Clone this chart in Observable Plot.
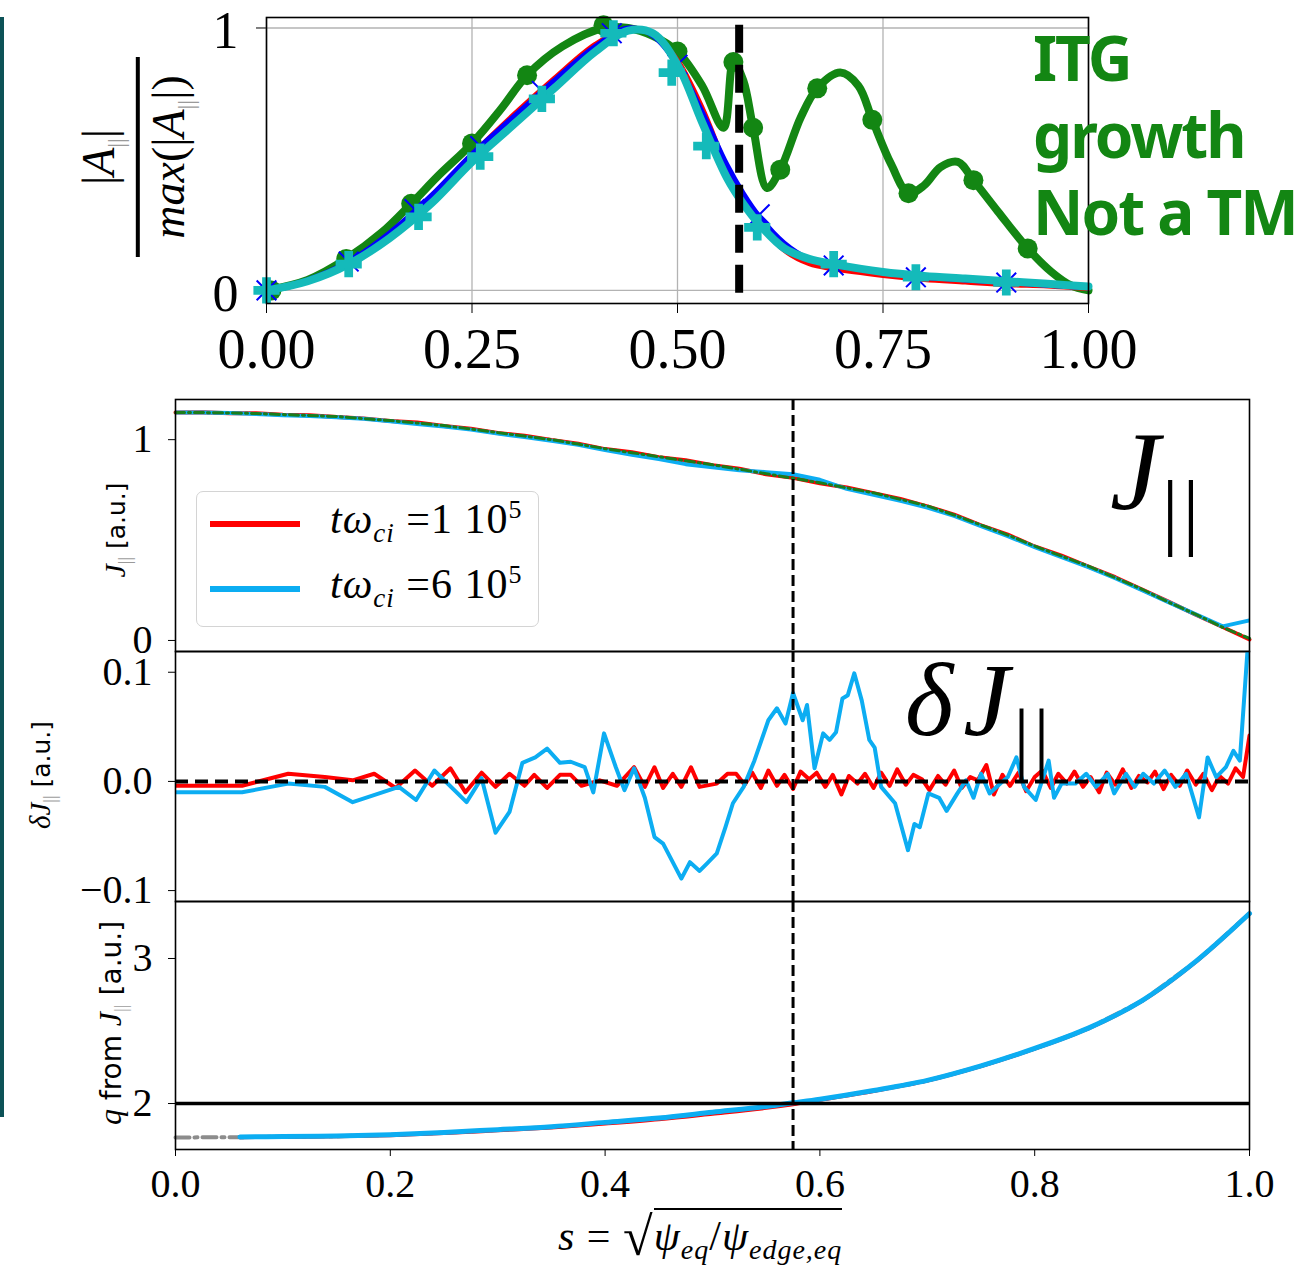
<!DOCTYPE html>
<html><head><meta charset="utf-8">
<script src="https://cdn.jsdelivr.net/npm/d3@7"></script>
<script src="https://cdn.jsdelivr.net/npm/@observablehq/plot@0.6"></script>
<style>
body{margin:0;background:#fff;}
#wrap{position:relative;width:1306px;height:1266px;overflow:hidden;background:#fff;}
.abs{position:absolute;}
.serif{font-family:"Liberation Serif",serif;}
.sans{font-family:"DejaVu Sans",sans-serif;}
.rot{transform:translate(-50%,-50%) rotate(-90deg);white-space:nowrap;}
.gsub{color:#9a9a9a;}
</style></head><body><div id="wrap"></div>
<script>
// ---------- Top panel: |A_par| / max(|A_par|) ----------
const topTicksX = [0, 0.25, 0.5, 0.75, 1];
const topTicksY = [0, 1];
const sRational = 0.575;

const greenS = [0, 0.05, 0.097, 0.14, 0.176, 0.21, 0.25, 0.285, 0.317, 0.36, 0.41, 0.44, 0.47, 0.50, 0.53, 0.556, 0.568, 0.58, 0.592, 0.609, 0.625, 0.65, 0.67, 0.698, 0.72, 0.737, 0.76, 0.781, 0.80, 0.82, 0.841, 0.86, 0.89, 0.926, 0.955, 0.978, 1.0];
const greenV = [0, 0.04, 0.12, 0.22, 0.33, 0.44, 0.56, 0.69, 0.82, 0.93, 1.0, 1.0, 0.97, 0.91, 0.78, 0.62, 0.87, 0.80, 0.62, 0.39, 0.46, 0.66, 0.77, 0.83, 0.78, 0.65, 0.48, 0.37, 0.40, 0.47, 0.49, 0.42, 0.30, 0.16, 0.07, 0.02, 0.0];
const greenMarkS = [0.006, 0.097, 0.176, 0.25, 0.317, 0.41, 0.50, 0.568, 0.592, 0.625, 0.67, 0.737, 0.781, 0.86, 0.926];
const greenMarkV = [0.0, 0.12, 0.33, 0.56, 0.82, 1.01, 0.91, 0.87, 0.62, 0.46, 0.77, 0.65, 0.37, 0.42, 0.16];

const topS  = [0, 0.05, 0.1, 0.15, 0.2, 0.25, 0.3, 0.35, 0.4, 0.44, 0.47, 0.5, 0.53, 0.56, 0.58, 0.6, 0.63, 0.66, 0.69, 0.75, 0.8, 0.85, 0.9, 0.95, 1.0];
const redTopV  = [0, 0.04, 0.11, 0.22, 0.36, 0.52, 0.67, 0.81, 0.94, 1.0, 0.98, 0.88, 0.70, 0.47, 0.34, 0.25, 0.15, 0.10, 0.08, 0.055, 0.04, 0.03, 0.02, 0.015, 0.005];
const blueTopV = [0, 0.04, 0.11, 0.22, 0.36, 0.52, 0.66, 0.80, 0.93, 1.0, 0.97, 0.86, 0.68, 0.48, 0.37, 0.28, 0.18, 0.12, 0.095, 0.07, 0.05, 0.04, 0.03, 0.02, 0.01];
const cyanTopV = [0, 0.035, 0.10, 0.20, 0.33, 0.49, 0.63, 0.77, 0.91, 0.99, 0.98, 0.86, 0.64, 0.43, 0.33, 0.25, 0.16, 0.12, 0.10, 0.07, 0.055, 0.045, 0.035, 0.025, 0.015];
const blueMarkS = [0.0, 0.1, 0.18, 0.26, 0.335, 0.42, 0.5, 0.6, 0.69, 0.79, 0.9];
const blueMarkV = [0.0, 0.11, 0.31, 0.55, 0.76, 0.98, 0.86, 0.29, 0.095, 0.05, 0.03];
const cyanMarkS = [0.0, 0.1, 0.185, 0.26, 0.335, 0.422, 0.493, 0.535, 0.597, 0.69, 0.79, 0.9];
const cyanMarkV = [0.0, 0.10, 0.28, 0.51, 0.73, 0.98, 0.83, 0.55, 0.24, 0.10, 0.05, 0.03];

// ---------- Panel A: J_par ----------
const jTicks = [0, 1];
const jS = [0, 0.025, 0.05, 0.075, 0.1, 0.125, 0.15, 0.175, 0.2, 0.225, 0.25, 0.275, 0.3, 0.325, 0.35, 0.375, 0.4, 0.425, 0.45, 0.475, 0.5, 0.525, 0.55, 0.575, 0.6, 0.625, 0.65, 0.675, 0.7, 0.725, 0.75, 0.775, 0.8, 0.825, 0.85, 0.875, 0.9, 0.925, 0.95, 0.975, 1.0];
const jGreen = [1.135, 1.135, 1.133, 1.130, 1.125, 1.120, 1.115, 1.105, 1.095, 1.083, 1.07, 1.053, 1.035, 1.018, 1.0, 0.978, 0.955, 0.935, 0.915, 0.895, 0.875, 0.853, 0.83, 0.808, 0.785, 0.76, 0.735, 0.703, 0.67, 0.625, 0.575, 0.525, 0.47, 0.42, 0.37, 0.313, 0.255, 0.19, 0.13, 0.065, 0.01];
const jRed   = [1.135, 1.136, 1.132, 1.131, 1.124, 1.121, 1.113, 1.106, 1.093, 1.085, 1.068, 1.055, 1.033, 1.020, 0.998, 0.980, 0.953, 0.937, 0.913, 0.897, 0.873, 0.855, 0.828, 0.810, 0.783, 0.762, 0.733, 0.705, 0.668, 0.627, 0.573, 0.527, 0.468, 0.422, 0.368, 0.315, 0.253, 0.192, 0.128, 0.067, 0.005];
const jBlue  = [1.135, 1.135, 1.133, 1.128, 1.122, 1.118, 1.112, 1.104, 1.092, 1.078, 1.066, 1.05, 1.03, 1.013, 0.995, 0.975, 0.948, 0.925, 0.903, 0.878, 0.862, 0.848, 0.838, 0.828, 0.800, 0.755, 0.725, 0.695, 0.662, 0.62, 0.57, 0.52, 0.465, 0.415, 0.365, 0.31, 0.25, 0.19, 0.13, 0.07, 0.10];

// ---------- Panel B: delta J_par ----------
const dTicks = [-0.1, 0, 0.1];
const dBlueS = [0, 0.062, 0.105, 0.139, 0.165, 0.208, 0.224, 0.241, 0.271, 0.285, 0.298, 0.311, 0.323, 0.335, 0.346, 0.358, 0.368, 0.381, 0.389, 0.399, 0.41, 0.418, 0.427, 0.437, 0.446, 0.454, 0.471, 0.479, 0.488, 0.495, 0.504, 0.512, 0.519, 0.529, 0.539, 0.552, 0.560, 0.568, 0.575, 0.584, 0.588, 0.595, 0.603, 0.609, 0.615, 0.621, 0.626, 0.632, 0.639, 0.646, 0.651, 0.657, 0.670, 0.682, 0.688, 0.693, 0.701, 0.711, 0.718, 0.728, 0.736, 0.743, 0.750, 0.758, 0.768, 0.775, 0.783, 0.790, 0.801, 0.813, 0.818, 0.825, 0.838, 0.848, 0.857, 0.868, 0.874, 0.885, 0.893, 0.901, 0.911, 0.921, 0.931, 0.941, 0.953, 0.961, 0.969, 0.978, 0.985, 0.991, 0.998, 1.0];
const dBlueV = [-0.010, -0.010, -0.002, -0.005, -0.019, -0.005, -0.017, 0.010, -0.019, 0.003, -0.047, -0.028, 0.017, 0.022, 0.030, 0.017, 0.018, 0.013, -0.010, 0.044, 0.013, -0.008, 0.012, -0.015, -0.051, -0.057, -0.089, -0.074, -0.082, -0.075, -0.066, -0.042, -0.020, -0.005, 0.019, 0.056, 0.067, 0.053, 0.081, 0.056, 0.070, 0.012, 0.044, 0.038, 0.045, 0.076, 0.079, 0.099, 0.074, 0.038, 0.031, -0.005, -0.020, -0.063, -0.039, -0.042, -0.011, -0.015, -0.027, -0.011, 0.001, -0.015, 0.007, -0.011, -0.002, 0.004, 0.022, -0.005, -0.017, 0.019, -0.015, -0.002, -0.002, 0.007, -0.005, 0.007, -0.011, 0.007, -0.005, 0.007, -0.002, 0.010, -0.005, 0.007, -0.033, 0.022, 0.004, 0.013, 0.028, 0.019, 0.118, 0.14];
const dRedS = [0, 0.062, 0.105, 0.139, 0.165, 0.185, 0.205, 0.223, 0.239, 0.256, 0.270, 0.285, 0.298, 0.311, 0.325, 0.334, 0.346, 0.358, 0.368, 0.378, 0.395, 0.411, 0.427, 0.437, 0.446, 0.454, 0.463, 0.471, 0.480, 0.488, 0.504, 0.514,
  0.522, 0.530, 0.537, 0.545, 0.552, 0.560, 0.567, 0.575, 0.582, 0.590, 0.597, 0.605, 0.612, 0.620, 0.627, 0.635, 0.642, 0.650, 0.657, 0.665, 0.672, 0.680, 0.687, 0.695, 0.702, 0.710, 0.717, 0.725, 0.732, 0.740, 0.747, 0.755, 0.762, 0.770, 0.777, 0.785, 0.792, 0.800, 0.807, 0.815, 0.822, 0.830, 0.837, 0.845, 0.852, 0.860, 0.867, 0.875, 0.882, 0.890, 0.897, 0.905, 0.912, 0.920, 0.927, 0.935, 0.942, 0.950, 0.957, 0.965, 0.972, 0.980, 0.987, 0.994, 1.0];
const dRedV = [-0.004, -0.004, 0.007, 0.004, 0.001, 0.007, -0.006, 0.010, -0.004, 0.012, -0.010, 0.008, -0.005, 0.007, -0.004, 0.006, -0.006, 0.006, 0.006, -0.004, 0.001, -0.004, 0.013, -0.005, 0.013, -0.006, 0.007, -0.005, 0.013, -0.005, -0.002, 0.007,
  0.007, -0.003, 0.008, -0.006, 0.010, -0.004, 0.006, -0.007, 0.009, 0.002, 0.008, -0.005, 0.006, -0.012, 0.005, -0.002, 0.007, -0.006, 0.008, -0.004, 0.011, -0.003, 0.006, 0.002, -0.008, 0.005, -0.003, 0.010, -0.006, 0.004, 0.001, 0.015, -0.012, 0.006, -0.004, 0.008, -0.009, 0.004, 0.010, -0.006, 0.007, -0.002, 0.009, -0.005, 0.004, -0.010, 0.008, -0.003, 0.011, -0.006, 0.005, -0.001, 0.009, -0.007, 0.006, -0.004, 0.010, -0.003, 0.007, -0.008, 0.005, -0.002, 0.012, 0.004, 0.042];

// ---------- Panel C: q ----------
const qTicks = [2, 3];
const xTicks = [0, 0.2, 0.4, 0.6, 0.8, 1.0];
const qS    = [0, 0.06, 0.1, 0.15, 0.2, 0.25, 0.3, 0.35, 0.4, 0.45, 0.5, 0.55, 0.575, 0.6, 0.65, 0.7, 0.75, 0.8, 0.85, 0.9, 0.95, 1.0];
const qGrey = [1.766, 1.768, 1.771, 1.775, 1.784, 1.799, 1.818, 1.839, 1.868, 1.899, 1.938, 1.977, 2.0, 2.028, 2.088, 2.158, 2.258, 2.378, 2.518, 2.708, 2.978, 3.31];
const qRed  = [null, 1.768, 1.770, 1.774, 1.782, 1.796, 1.815, 1.835, 1.862, 1.892, 1.930, 1.970, 1.995, 2.026, 2.087, 2.158, 2.258, 2.378, 2.518, 2.708, 2.978, 3.31];
const qBlue = [null, 1.770, 1.772, 1.776, 1.785, 1.800, 1.820, 1.840, 1.870, 1.900, 1.940, 1.980, 2.005, 2.030, 2.090, 2.160, 2.260, 2.380, 2.520, 2.710, 2.980, 3.310];

const zip = (s, v) => s.map((x, i) => ({s: x, v: v[i]})).filter(d => d.v != null && d.v !== undefined);

const wrap = document.getElementById("wrap");
function place(el, left, top) {
  el.style.position = "absolute";
  el.style.left = left + "px";
  el.style.top = top + "px";
  el.style.overflow = "visible";
  wrap.appendChild(el);
}

const GREEN = "#138613", CYAN = "#14baba", LBLUE = "#0cadf2";

// Top plot
const topPlot = Plot.plot({
  width: 1306, height: 395,
  marginLeft: 266, marginRight: 218, marginTop: 17, marginBottom: 92,
  x: {domain: [0, 1], ticks: topTicksX, tickFormat: d3.format(".2f"), tickSize: 10, tickPadding: 15, label: null},
  y: {domain: [-0.05, 1.04], ticks: topTicksY, tickFormat: d => String(d), tickSize: 10, tickPadding: 18, label: null},
  style: {fontFamily: "'Liberation Serif', serif", fontSize: "56px", background: "transparent", color: "black", overflow: "visible"},
  marks: [
    Plot.ruleX(topTicksX, {stroke: "#b3b3b3", strokeWidth: 1.3}),
    Plot.ruleY(topTicksY, {stroke: "#b3b3b3", strokeWidth: 1.3}),
    Plot.line(zip(greenS, greenV), {x: "s", y: "v", stroke: GREEN, strokeWidth: 8, curve: "catmull-rom"}),
    Plot.dot(zip(greenMarkS, greenMarkV), {x: "s", y: "v", r: 10, fill: GREEN}),
    Plot.line(zip(topS, redTopV), {x: "s", y: "v", stroke: "red", strokeWidth: 4, curve: "catmull-rom"}),
    Plot.line(zip(topS, blueTopV), {x: "s", y: "v", stroke: "blue", strokeWidth: 5, curve: "catmull-rom"}),
    Plot.dot(zip(blueMarkS, blueMarkV), {x: "s", y: "v", r: 9, symbol: "times", stroke: "blue", strokeWidth: 2}),
    Plot.line(zip(topS, cyanTopV), {x: "s", y: "v", stroke: CYAN, strokeWidth: 8, curve: "catmull-rom"}),
    Plot.dot(zip(cyanMarkS, cyanMarkV), {x: "s", y: "v", r: 11, symbol: "cross", fill: CYAN}),
    Plot.ruleX([sRational], {y1: 1.01, y2: -0.05, stroke: "black", strokeWidth: 8, strokeDasharray: "28,12"}),
    Plot.frame({stroke: "black", strokeWidth: 1.6})
  ]
});
// keep the top y tick labels (esp. "1") inside the page: slightly smaller, nudged 3px down
topPlot.querySelectorAll('g[aria-label^="y-axis"]').forEach(g => {
  g.setAttribute("font-size", "52");
  g.querySelectorAll("text").forEach(t => {
    if (t.getAttribute("dy") && t.getAttribute("dy").endsWith("em")) t.setAttribute("dy", "0.385em");
    else t.setAttribute("dy", "3.5");
  });
});
place(topPlot, 0, 0);

const common = {width: 1306, marginLeft: 175, marginRight: 57};
const tickStyle = {fontFamily: "'Liberation Serif', serif", fontSize: "40px", background: "transparent", color: "black", overflow: "visible"};

// Panel A
const pA = Plot.plot({
  ...common, height: 260, marginTop: 4, marginBottom: 4,
  x: {domain: [0, 1], axis: null},
  y: {domain: [-0.055, 1.2], ticks: jTicks, tickFormat: d => String(d), tickSize: 7, tickPadding: 16, label: null},
  style: tickStyle,
  marks: [
    Plot.line(zip(jS, jRed), {x: "s", y: "v", stroke: "red", strokeWidth: 4}),
    Plot.line(zip(jS, jBlue), {x: "s", y: "v", stroke: LBLUE, strokeWidth: 4, clip: true}),
    Plot.line(zip(jS, jGreen), {x: "s", y: "v", stroke: "#1b7d1b", strokeWidth: 3, strokeDasharray: "9,4,2,4"}),
    Plot.ruleX([sRational], {stroke: "black", strokeWidth: 3, strokeDasharray: "11,5"}),
    Plot.frame({stroke: "black", strokeWidth: 1.6})
  ]
});
place(pA, 0, 395);

// Panel B
const pB = Plot.plot({
  ...common, height: 258, marginTop: 4, marginBottom: 4,
  x: {domain: [0, 1], axis: null},
  y: {domain: [-0.110, 0.119], ticks: dTicks, tickFormat: d3.format(".1f"), tickSize: 7, tickPadding: 16, label: null},
  style: tickStyle,
  marks: [
    Plot.line(zip(dRedS, dRedV), {x: "s", y: "v", stroke: "red", strokeWidth: 4, clip: true}),
    Plot.line(zip(dBlueS, dBlueV), {x: "s", y: "v", stroke: LBLUE, strokeWidth: 4, clip: true}),
    Plot.ruleY([0], {stroke: "black", strokeWidth: 4, strokeDasharray: "13,7"}),
    Plot.ruleX([sRational], {stroke: "black", strokeWidth: 3, strokeDasharray: "11,5"}),
    Plot.frame({stroke: "black", strokeWidth: 1.6})
  ]
});
place(pB, 0, 647);

// Panel C
const pC = Plot.plot({
  ...common, height: 369, marginTop: 4, marginBottom: 117,
  x: {domain: [0, 1], ticks: xTicks, tickFormat: d3.format(".1f"), tickSize: 7, tickPadding: 12, label: null},
  y: {domain: [1.683, 3.393], ticks: qTicks, tickFormat: d => String(d), tickSize: 7, tickPadding: 16, label: null},
  style: tickStyle,
  marks: [
    Plot.line(zip(qS, qGrey), {x: "s", y: "v", stroke: "#8c8c8c", strokeWidth: 4, strokeDasharray: "14,5,3,5"}),
    Plot.line(zip(qS, qRed), {x: "s", y: "v", stroke: "red", strokeWidth: 4, curve: "catmull-rom"}),
    Plot.line(zip(qS, qBlue), {x: "s", y: "v", stroke: LBLUE, strokeWidth: 5, curve: "catmull-rom"}),
    Plot.ruleY([2], {stroke: "black", strokeWidth: 3.5}),
    Plot.ruleX([sRational], {stroke: "black", strokeWidth: 3, strokeDasharray: "11,5"}),
    Plot.frame({stroke: "black", strokeWidth: 1.6})
  ]
});
place(pC, 0, 897);

// ---------- Text overlays ----------
function html(str, left, top, cls, style) {
  const d = document.createElement("div");
  d.className = "abs " + (cls || "");
  d.innerHTML = str;
  d.style.left = left + "px"; d.style.top = top + "px";
  if (style) d.setAttribute("style", d.getAttribute("style") + ";" + style);
  wrap.appendChild(d);
  return d;
}
// left teal bar
html("", 0, 17, "", "width:4px;height:1100px;background:#0d5257;");

// top y label (fraction)
html(`<div style="display:flex;flex-direction:column;align-items:center;line-height:1;">
  <div style="font-size:46px;">|<i>A</i><sub class="gsub" style="font-size:24px;">||</sub>|</div>
  <div style="width:200px;height:4px;background:#000;margin:8px 0 6px 0;"></div>
  <div style="font-size:46px;"><i>max</i>(|<i>A</i><sub class="gsub" style="font-size:24px;">||</sub>|)</div>
</div>`, 137, 157, "serif rot");

// green annotation
const gtxt = ["ITG", "growth", "Not a TM"];
gtxt.forEach((t, i) => html(t, 1033, 26 + i * 77, "", `font-family:'Noto Sans',sans-serif;font-weight:700;font-size:62px;line-height:1;letter-spacing:-2px;color:${GREEN};white-space:nowrap;`));

// big J_par label
html(`<span style="font-style:italic;font-size:112px;">J</span><span style="font-size:84px;position:relative;top:30px;letter-spacing:4px;margin-left:2px;">||</span>`, 1110, 415, "serif", "line-height:1;white-space:nowrap;");
// delta J_par label
html(`<span style="font-style:italic;font-size:104px;">δ</span><span style="font-style:italic;font-size:104px;margin-left:10px;">J</span><span style="font-size:80px;position:relative;top:30px;letter-spacing:4px;margin-left:4px;">||</span>`, 905, 648, "serif", "line-height:1;white-space:nowrap;");

// panel y labels
html(`<span class="serif" style="font-style:italic;font-size:30px;">J</span><sub class="gsub serif" style="font-size:18px;">||</sub> [a.u.]`, 117, 530, "sans rot", "font-size:25px;");
html(`<span class="serif" style="font-style:italic;font-size:29px;">δJ</span><sub class="gsub serif" style="font-size:18px;">||</sub> [a.u.]`, 42, 775, "sans rot", "font-size:25px;");
html(`<span class="serif" style="font-style:italic;font-size:32px;">q</span> from <span class="serif" style="font-style:italic;font-size:32px;">J</span><sub class="gsub serif" style="font-size:19px;">||</sub> [a.u.]`, 112, 1023, "sans rot", "font-size:28px;");

// legend
html(`<div style="width:341px;height:134px;border:1.5px solid #d4d4d4;border-radius:7px;background:rgba(255,255,255,0.85);"></div>`, 196, 491, "");
html("", 210, 521, "", "width:90px;height:6px;background:red;");
html("", 210, 586, "", "width:90px;height:6px;background:" + LBLUE + ";");
const legTxt = n => `<i>tω</i><sub style="font-size:27px;"><i>ci</i></sub> =${n} 10<sup style="font-size:26px;">5</sup>`;
html(legTxt(1), 330, 497, "serif", "font-size:42px;line-height:1;white-space:nowrap;letter-spacing:1px;");
html(legTxt(6), 330, 562, "serif", "font-size:42px;line-height:1;white-space:nowrap;letter-spacing:1px;");

// x label
html(`<i>s</i> = <span style="font-size:54px;position:relative;top:5px;">√</span><span style="border-top:2px solid #000;padding-top:3px;"><i>ψ</i><sub style="font-size:28px;"><i>eq</i></sub>/<i>ψ</i><sub style="font-size:28px;"><i>edge,eq</i></sub></span>`, 558, 1200, "serif", "font-size:42px;line-height:1.2;white-space:nowrap;letter-spacing:1px;");
</script>
</body></html>
